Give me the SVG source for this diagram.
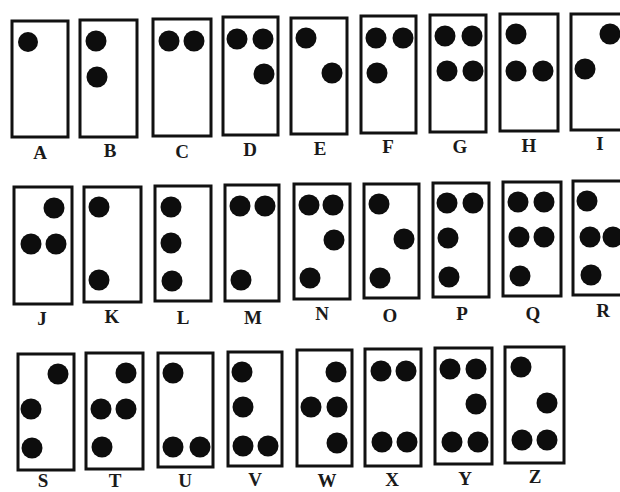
<svg xmlns="http://www.w3.org/2000/svg" width="620" height="492" viewBox="0 0 620 492">
<style>
.box{fill:#fff;stroke:#111;stroke-width:3}
.dot{fill:#0d0d0d}
.lbl{font-family:"Liberation Serif","Times New Roman",serif;font-size:19px;font-weight:bold;fill:#1a1a1a;text-anchor:middle}
</style>
<rect width="620" height="492" fill="#fff"/>
<g id="connectors"/>
<g id="A"><rect class="box" x="12" y="21" width="56" height="116"/><circle class="dot" cx="28" cy="42" r="10"/><text class="lbl" x="40" y="159">A</text></g>
<g id="B"><rect class="box" x="80" y="20" width="57" height="117"/><circle class="dot" cx="96" cy="41" r="10.5"/><circle class="dot" cx="97" cy="77" r="10.5"/><text class="lbl" x="110" y="157">B</text></g>
<g id="C"><rect class="box" x="153" y="19" width="58" height="117"/><circle class="dot" cx="169" cy="41" r="10.5"/><circle class="dot" cx="194" cy="41" r="10.5"/><text class="lbl" x="182" y="158">C</text></g>
<g id="D"><rect class="box" x="223" y="17" width="55" height="118"/><circle class="dot" cx="237" cy="39" r="10.5"/><circle class="dot" cx="263" cy="39" r="10.5"/><circle class="dot" cx="264" cy="74" r="10.5"/><text class="lbl" x="250" y="156">D</text></g>
<g id="E"><rect class="box" x="291" y="18" width="56" height="116"/><circle class="dot" cx="306" cy="38" r="10.5"/><circle class="dot" cx="332" cy="73" r="10.5"/><text class="lbl" x="320" y="155">E</text></g>
<g id="F"><rect class="box" x="361" y="16" width="55" height="117"/><circle class="dot" cx="376" cy="38" r="10.5"/><circle class="dot" cx="403" cy="38" r="10.5"/><circle class="dot" cx="377" cy="73" r="10.5"/><text class="lbl" x="388" y="153">F</text></g>
<g id="G"><rect class="box" x="430" y="15" width="56" height="117"/><circle class="dot" cx="445" cy="36" r="10.5"/><circle class="dot" cx="472" cy="36" r="10.5"/><circle class="dot" cx="447" cy="71" r="10.5"/><circle class="dot" cx="473" cy="71" r="10.5"/><text class="lbl" x="460" y="153">G</text></g>
<g id="H"><rect class="box" x="500" y="14" width="58" height="117"/><circle class="dot" cx="516" cy="34" r="10.5"/><circle class="dot" cx="516" cy="71" r="10.5"/><circle class="dot" cx="543" cy="71" r="10.5"/><text class="lbl" x="529" y="152">H</text></g>
<g id="I"><rect class="box" x="571" y="14" width="58" height="116"/><circle class="dot" cx="610" cy="34" r="10.5"/><circle class="dot" cx="585" cy="69" r="10.5"/><text class="lbl" x="600" y="150">I</text></g>
<g id="J"><rect class="box" x="14" y="187" width="58" height="117"/><circle class="dot" cx="54" cy="208" r="10.5"/><circle class="dot" cx="31" cy="244" r="10.5"/><circle class="dot" cx="56" cy="244" r="10.5"/><text class="lbl" x="42" y="325">J</text></g>
<g id="K"><rect class="box" x="84" y="187" width="57" height="115"/><circle class="dot" cx="99" cy="207" r="10.5"/><circle class="dot" cx="99" cy="280" r="10.5"/><text class="lbl" x="112" y="323">K</text></g>
<g id="L"><rect class="box" x="155" y="186" width="56" height="115"/><circle class="dot" cx="171" cy="207" r="10.5"/><circle class="dot" cx="171" cy="243" r="10.5"/><circle class="dot" cx="172" cy="281" r="10.5"/><text class="lbl" x="183" y="324">L</text></g>
<g id="M"><rect class="box" x="225" y="185" width="54" height="116"/><circle class="dot" cx="240" cy="206" r="10.5"/><circle class="dot" cx="265" cy="206" r="10.5"/><circle class="dot" cx="241" cy="280" r="10.5"/><text class="lbl" x="253" y="324">M</text></g>
<g id="N"><rect class="box" x="294" y="184" width="56" height="115"/><circle class="dot" cx="309" cy="205" r="10.5"/><circle class="dot" cx="333" cy="205" r="10.5"/><circle class="dot" cx="334" cy="240" r="10.5"/><circle class="dot" cx="310" cy="278" r="10.5"/><text class="lbl" x="322" y="320">N</text></g>
<g id="O"><rect class="box" x="364" y="184" width="55" height="114"/><circle class="dot" cx="379" cy="204" r="10.5"/><circle class="dot" cx="404" cy="239" r="10.5"/><circle class="dot" cx="380" cy="278" r="10.5"/><text class="lbl" x="390" y="322">O</text></g>
<g id="P"><rect class="box" x="433" y="183" width="56" height="114"/><circle class="dot" cx="447" cy="203" r="10.5"/><circle class="dot" cx="473" cy="203" r="10.5"/><circle class="dot" cx="448" cy="238" r="10.5"/><circle class="dot" cx="449" cy="277" r="10.5"/><text class="lbl" x="462" y="320">P</text></g>
<g id="Q"><rect class="box" x="503" y="182" width="58" height="114"/><circle class="dot" cx="518" cy="202" r="10.5"/><circle class="dot" cx="544" cy="202" r="10.5"/><circle class="dot" cx="519" cy="237" r="10.5"/><circle class="dot" cx="544" cy="237" r="10.5"/><circle class="dot" cx="520" cy="276" r="10.5"/><text class="lbl" x="533" y="320">Q</text></g>
<g id="R"><rect class="box" x="573" y="181" width="58" height="114"/><circle class="dot" cx="587" cy="201" r="10.5"/><circle class="dot" cx="590" cy="237" r="10.5"/><circle class="dot" cx="613" cy="237" r="10.5"/><circle class="dot" cx="591" cy="275" r="10.5"/><text class="lbl" x="603" y="317">R</text></g>
<g id="S"><rect class="box" x="18" y="354" width="56" height="116"/><circle class="dot" cx="58" cy="374" r="10.5"/><circle class="dot" cx="31" cy="409" r="10.5"/><circle class="dot" cx="32" cy="448" r="10.5"/><text class="lbl" x="43" y="487">S</text></g>
<g id="T"><rect class="box" x="86" y="353" width="57" height="116"/><circle class="dot" cx="126" cy="373" r="10.5"/><circle class="dot" cx="101" cy="409" r="10.5"/><circle class="dot" cx="126" cy="409" r="10.5"/><circle class="dot" cx="102" cy="447" r="10.5"/><text class="lbl" x="115" y="487">T</text></g>
<g id="U"><rect class="box" x="158" y="353" width="55" height="114"/><circle class="dot" cx="173" cy="373" r="10.5"/><circle class="dot" cx="173" cy="447" r="10.5"/><circle class="dot" cx="200" cy="447" r="10.5"/><text class="lbl" x="185" y="487">U</text></g>
<g id="V"><rect class="box" x="228" y="352" width="54" height="114"/><circle class="dot" cx="242" cy="372" r="10.5"/><circle class="dot" cx="243" cy="407" r="10.5"/><circle class="dot" cx="243" cy="446" r="10.5"/><circle class="dot" cx="268" cy="446" r="10.5"/><text class="lbl" x="255" y="486">V</text></g>
<g id="W"><rect class="box" x="297" y="350" width="55" height="116"/><circle class="dot" cx="336" cy="372" r="10.5"/><circle class="dot" cx="311" cy="407" r="10.5"/><circle class="dot" cx="337" cy="407" r="10.5"/><circle class="dot" cx="337" cy="443" r="10.5"/><text class="lbl" x="327" y="487">W</text></g>
<g id="X"><rect class="box" x="365" y="349" width="56" height="117"/><circle class="dot" cx="381" cy="371" r="10.5"/><circle class="dot" cx="406" cy="371" r="10.5"/><circle class="dot" cx="382" cy="442" r="10.5"/><circle class="dot" cx="407" cy="442" r="10.5"/><text class="lbl" x="392" y="486">X</text></g>
<g id="Y"><rect class="box" x="435" y="348" width="57" height="116"/><circle class="dot" cx="450" cy="369" r="10.5"/><circle class="dot" cx="476" cy="369" r="10.5"/><circle class="dot" cx="476" cy="404" r="10.5"/><circle class="dot" cx="452" cy="442" r="10.5"/><circle class="dot" cx="478" cy="442" r="10.5"/><text class="lbl" x="465" y="485">Y</text></g>
<g id="Z"><rect class="box" x="505" y="347" width="59" height="116"/><circle class="dot" cx="521" cy="367" r="10.5"/><circle class="dot" cx="547" cy="403" r="10.5"/><circle class="dot" cx="522" cy="440" r="10.5"/><circle class="dot" cx="547" cy="440" r="10.5"/><text class="lbl" x="535" y="483">Z</text></g>
</svg>
